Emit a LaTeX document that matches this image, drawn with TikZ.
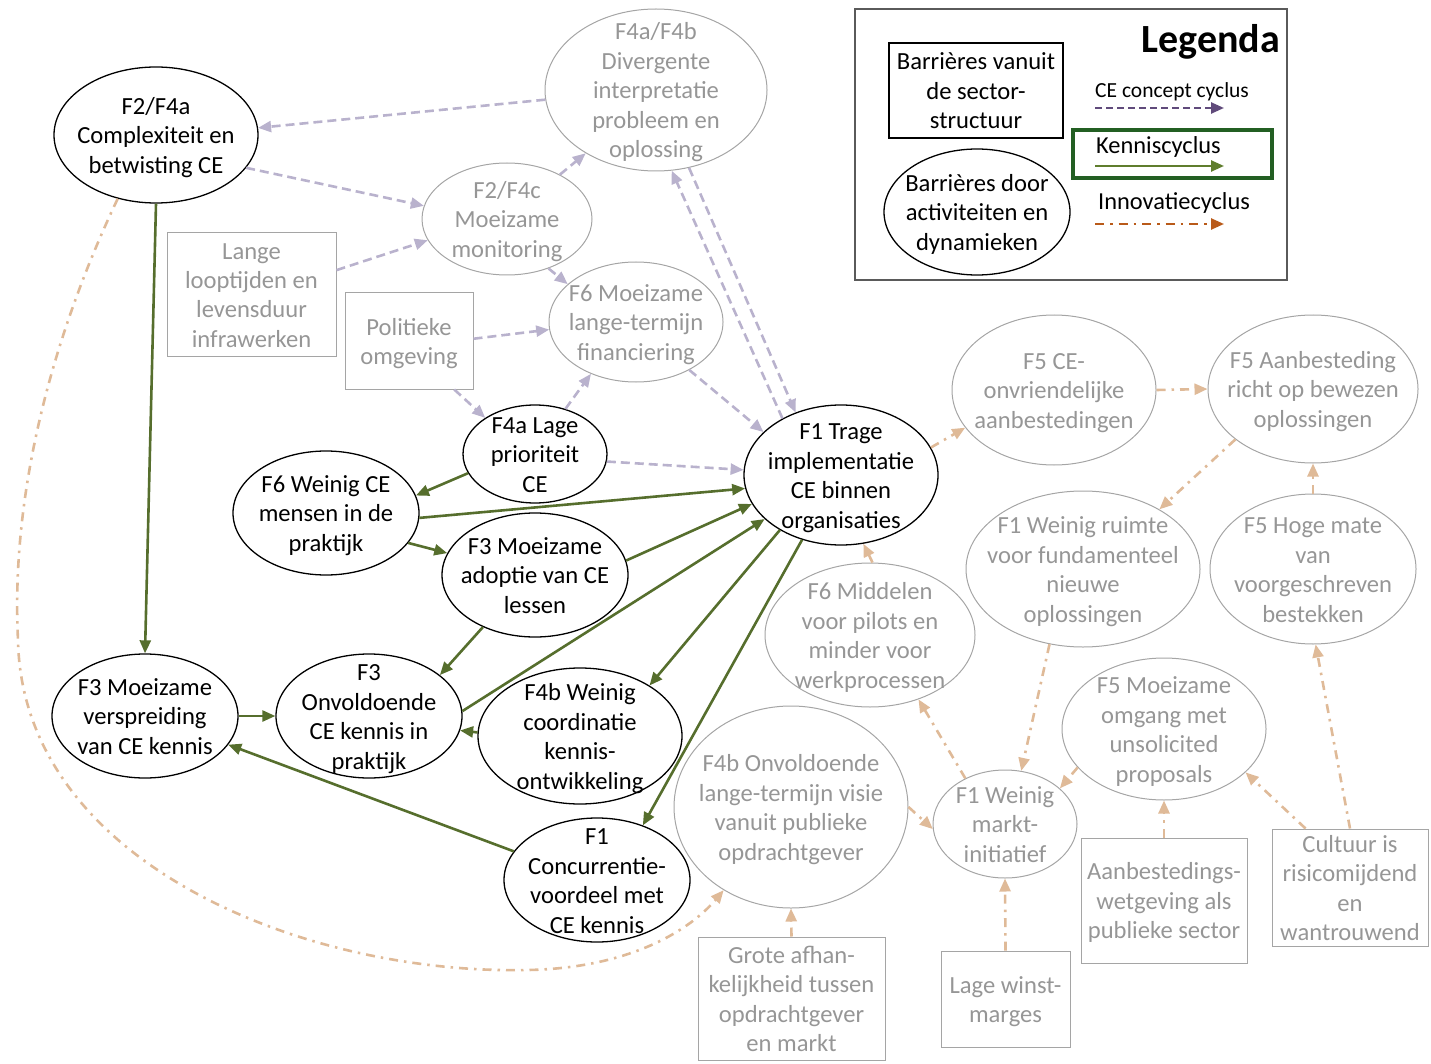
\documentclass[tikz,border=0pt]{standalone}
\usepackage{fontspec}
\setmainfont{Carlito}
\usetikzlibrary{shapes.geometric,arrows.meta}
\newcommand{\fsmain}{\fontsize{24.6}{29.5}\selectfont}
\newcommand{\tsr}{\rule{0pt}{23pt}}
\definecolor{gtext}{RGB}{150,150,150}
\definecolor{gborder}{RGB}{165,165,165}
\definecolor{kgreen}{RGB}{86,110,45}
\definecolor{lav}{RGB}{185,178,205}
\definecolor{innotan}{RGB}{223,186,152}
\definecolor{legpurple}{RGB}{96,74,123}
\definecolor{legbrown}{RGB}{185,90,25}
\definecolor{leggreen}{RGB}{95,125,45}
\definecolor{legbox}{RGB}{35,95,35}
\definecolor{legframe}{RGB}{90,90,90}
\begin{document}
\begin{tikzpicture}[x=1pt,y=-1pt,
  every node/.style={font=\fsmain},
  struts/.style={execute at end node={\rule[-5.5pt]{0pt}{5.5pt}}},
  bel/.style={ellipse, draw=black, line width=1.3pt, inner sep=-40pt, align=center, text=black, struts},
  gel/.style={ellipse, draw=gborder, line width=1pt, inner sep=-40pt, align=center, text=gtext, struts},
  grect/.style={rectangle, draw=gborder, line width=1pt, inner sep=0pt, align=center, text=gtext, struts},
  brect/.style={rectangle, draw=black, line width=1.3pt, inner sep=0pt, align=center, text=black, struts},
  tipk/.style={-{Triangle[length=13pt,width=11pt]}},
  kn/.style={draw=kgreen, line width=2.6pt, tipk},
  ce/.style={draw=lav, line width=2.6pt, dash pattern=on 9pt off 5pt, tipk},
  inno/.style={draw=innotan, line width=2.6pt, dash pattern=on 9pt off 6pt on 2.5pt off 6pt, tipk},
]
\useasboundingbox (0,0) rectangle (1431,1064);

% ---------- black ellipses ----------
\node[bel, minimum width=204pt, minimum height=136pt] (cx) at (156,135) {\tsr F2/F4a\\Complexiteit en\\betwisting CE};
\node[bel, minimum width=144pt, minimum height=98pt] (lp) at (535,454) {\tsr F4a Lage\\prioriteit\\CE};
\node[bel, minimum width=186pt, minimum height=124pt] (wm) at (326,513) {\tsr F6 Weinig CE\\mensen in de\\praktijk};
\node[bel, minimum width=186pt, minimum height=124pt] (ma) at (535,575) {\tsr F3 Moeizame\\adoptie van CE\\lessen};
\node[bel, minimum width=186pt, minimum height=124pt] (ok) at (369,716) {\tsr F3\\Onvoldoende\\CE kennis in\\praktijk};
\node[bel, minimum width=204pt, minimum height=136pt] (wc) at (580,736) {\tsr F4b Weinig\\coordinatie\\kennis-\\ontwikkeling};
\node[bel, minimum width=186pt, minimum height=124pt] (mv) at (145,716) {\tsr F3 Moeizame\\verspreiding\\van CE kennis};
\node[bel, minimum width=186pt, minimum height=124pt] (cv) at (597,880) {\tsr F1\\Concurrentie-\\voordeel met\\CE kennis};
\node[bel, minimum width=194pt, minimum height=140pt] (ti) at (841,475) {\tsr F1 Trage\\implementatie\\CE binnen\\organisaties};

% ---------- grey ellipses ----------
\node[gel, minimum width=222pt, minimum height=162pt] (dv) at (656,90) {\tsr F4a/F4b\\Divergente\\interpretatie\\probleem en\\oplossing};
\node[gel, minimum width=170pt, minimum height=112pt] (mm) at (507,219) {\tsr F2/F4c\\Moeizame\\monitoring};
\node[gel, minimum width=174pt, minimum height=120pt] (lf) at (636,322) {\tsr F6 Moeizame\\lange-termijn\\financiering};
\node[gel, minimum width=204pt, minimum height=150pt] (oa) at (1054,390) {\tsr F5 CE-\\onvriendelijke\\aanbestedingen};
\node[gel, minimum width=210pt, minimum height=148pt] (ab) at (1313,389) {\tsr F5 Aanbesteding\\richt op bewezen\\oplossingen};
\node[gel, minimum width=234pt, minimum height=156pt] (wr) at (1083,569) {\tsr F1 Weinig ruimte\\voor fundamenteel\\nieuwe\\oplossingen};
\node[gel, minimum width=206pt, minimum height=150pt] (hm) at (1313,569) {\tsr F5 Hoge mate\\van\\voorgeschreven\\bestekken};
\node[gel, minimum width=210pt, minimum height=144pt] (mp) at (870,635) {\tsr F6 Middelen\\voor pilots en\\minder voor\\werkprocessen};
\node[gel, minimum width=234pt, minimum height=202pt] (vis) at (791,807) {\tsr F4b Onvoldoende\\lange-termijn visie\\vanuit publieke\\opdrachtgever};
\node[gel, minimum width=144pt, minimum height=108pt] (mi) at (1005,824) {\tsr F1 Weinig\\markt-\\initiatief};
\node[gel, minimum width=204pt, minimum height=142pt] (up) at (1164,729) {\tsr F5 Moeizame\\omgang met\\unsolicited\\proposals};

% ---------- grey rectangles ----------
\node[grect, minimum width=169pt, minimum height=123pt] (ll) at (251.5,294.5) {\tsr Lange\\looptijden en\\levensduur\\infrawerken};
\node[grect, minimum width=128pt, minimum height=96pt] (po) at (409,341) {\tsr Politieke\\omgeving};
\node[grect, minimum width=187pt, minimum height=123pt] (ga) at (791.5,998.5) {\tsr Grote afhan-\\kelijkheid tussen\\opdrachtgever\\en markt};
\node[grect, minimum width=129pt, minimum height=96pt] (lw) at (1005.5,999) {\tsr Lage winst-\\marges};
\node[grect, minimum width=166pt, minimum height=125pt] (aw) at (1164,900.5) {\tsr Aanbestedings-\\wetgeving als\\publieke sector};
\node[grect, minimum width=156pt, minimum height=117pt] (cu) at (1350,887.5) {\tsr Cultuur is\\risicomijdend\\en\\wantrouwend};

% ---------- CE concept cyclus (dashed) ----------
\draw[ce] (dv.185) -- (cx.4);
\draw[ce] (cx.340.6) -- (mm.171);
\draw[ce] (ll.16.2) -- (mm.195);
\draw[ce] (mm.40) -- (dv.222.4);
\draw[ce] (mm.310) -- (lf.151.4);
\draw[ce] (po.2.7) -- (lf.185);
\draw[ce] (po.313) -- (lp.144);
\draw[ce] (lp.56.9) -- (lf.229);
\draw[ce] (lp.354.4) -- (ti.177);
\draw[ce] (lf.318.4) -- (ti.151.4);
\draw[ce] (ti.136.4) -- (dv.281);
\draw[ce] (dv.293) -- (ti.126.1);

% ---------- Kenniscyclus (green) ----------
\draw[kn] (cx.270) -- (mv.north);
\draw[kn] (lp.196) -- (wm.11.2);
\draw[kn] (wm.357) -- (ti.188.8);
\draw[kn] (wm.340.5) -- (ma.166.3);
\draw[kn] (ma.9.8) -- (ti.198.2);
\draw[kn] (ma.225.6) -- (ok.30.6);
\draw[kn] (ok.3.7) -- (ti.210.6);
\draw[kn] (mv.east) -- (ok.west);
\draw[kn] (wc.178) -- (ok.351);
\draw[kn] (ti.222) -- (wc.36.9);
\draw[kn] (ti.239) -- (cv.50.4);
\draw[kn] (cv.161.6) -- (mv.341.2);

% ---------- Innovatiecyclus (dash-dot) ----------
\coordinate (k1) at (18,640);
\coordinate (k2) at (528,970);
\draw[inno] (cx.239) .. controls (60,320) and (10,480) .. (k1)
  .. controls (22,860) and (300,975) .. (k2)
  .. controls (630,968) and (690,930) .. (vis.231);
\draw[inno] (ti.17.5) -- (oa.203.4);
\draw[inno] (oa.east) -- (ab.west);
\draw[inno] (ab.213.9) -- (wr.38.8);
\draw[inno] (hm.north) -- (ab.south);
\draw[inno] (wr.246.5) -- (mi.73.5);
\draw[inno] (mi.131) -- (mp.307.6);
\draw[inno] (mp.88) -- (ti.288);
\draw[inno] (vis.east) -- (mi.184.8);
\draw[inno] (up.204.9) -- (mi.33.2);
\draw[inno] (aw.north) -- (up.south);
\draw[inno] (cu.127) -- (up.332.4);
\draw[inno] (cu.north) -- (hm.272.3);
\draw[inno] (lw.north) -- (mi.south);
\draw[inno] (ga.north) -- (vis.south);

% ---------- Legend ----------
\node[draw=legframe, line width=1.3pt, minimum width=432pt, minimum height=271pt, inner sep=0pt] (lg) at (1071,144.5) {};
\node[brect, minimum width=174pt, minimum height=95pt] (lbox) at (976,90.5) {\tsr Barrières vanuit\\de sector-\\structuur};
\node[bel, minimum width=186pt, minimum height=126pt] (lell) at (977,212) {\tsr Barrières door\\activiteiten en\\dynamieken};
\node[anchor=base east, inner sep=0pt, font=\fontsize{40}{48}\selectfont\bfseries] (lgt) at (1280,53) {Legenda};
\node[anchor=base west, inner sep=0pt, font=\fontsize{21.5}{26}\selectfont] (l1) at (1095,98) {CE concept cyclus};
\coordinate (l1a) at (1095,108);
\coordinate (l1b) at (1224,108);
\draw[draw=legpurple, line width=2.4pt, dash pattern=on 7pt off 4pt, tipk] (l1a) -- (l1b);
\node[draw=legbox, line width=4.5pt, minimum width=199pt, minimum height=48pt, inner sep=0pt] (kbox) at (1172.5,154) {};
\node[anchor=base west, inner sep=0pt, font=\fontsize{24.4}{29}\selectfont] (l2) at (1096,154) {Kenniscyclus};
\coordinate (l2a) at (1095,166);
\coordinate (l2b) at (1224,166);
\draw[draw=leggreen, line width=2.4pt, tipk] (l2a) -- (l2b);
\node[anchor=base west, inner sep=0pt, font=\fontsize{24.4}{29}\selectfont] (l3) at (1098,210) {Innovatiecyclus};
\coordinate (l3a) at (1095,224);
\coordinate (l3b) at (1224,224);
\draw[draw=legbrown, line width=2.4pt, dash pattern=on 9pt off 6pt on 2.5pt off 6pt, tipk] (l3a) -- (l3b);
\end{tikzpicture}
\end{document}
